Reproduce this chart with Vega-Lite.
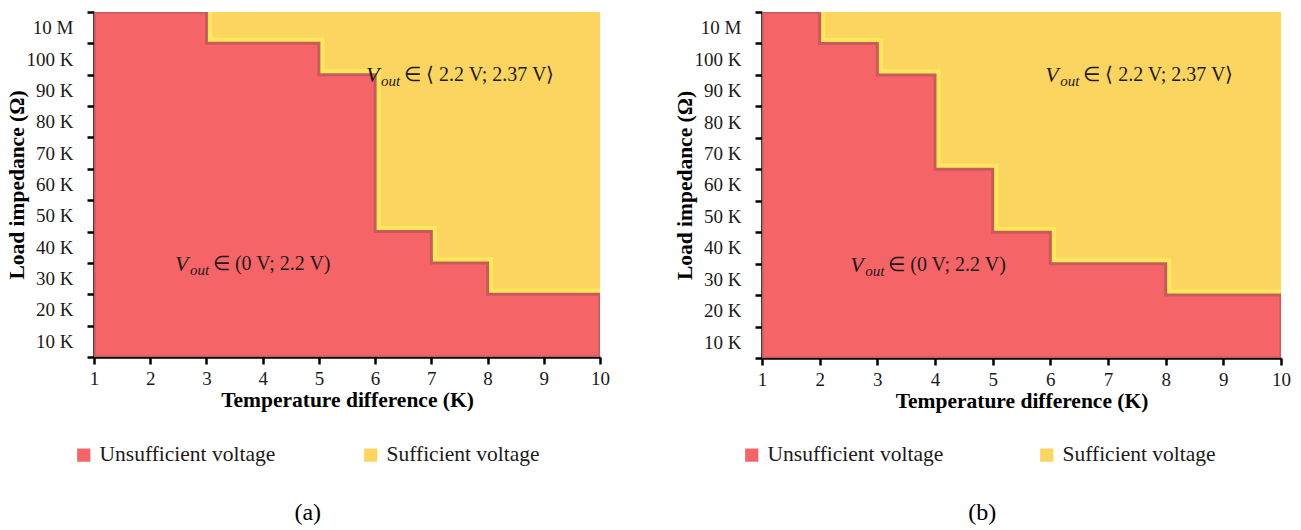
{
  "$schema": "https://vega.github.io/schema/vega-lite/v6.json",
  "background": "white",
  "padding": {"left": 6, "top": 10, "right": 10, "bottom": 5},
  "datasets": {
    "stepsA": [
      {"x": 1, "level": 11}, {"x": 3, "level": 10}, {"x": 5, "level": 9},
      {"x": 6, "level": 4}, {"x": 7, "level": 3}, {"x": 8, "level": 2}, {"x": 10, "level": 2}
    ],
    "stepsB": [
      {"x": 1, "level": 11}, {"x": 2, "level": 10}, {"x": 3, "level": 9},
      {"x": 4, "level": 6}, {"x": 5, "level": 4}, {"x": 6, "level": 3}, {"x": 8, "level": 2}, {"x": 10, "level": 2}
    ],
    "notesA": [
      {"x": 2.44, "level": 2.95, "rest": "∈ (0 V; 2.2 V)"},
      {"x": 5.84, "level": 9.0, "rest": "∈ ⟨ 2.2 V; 2.37 V⟩"}
    ],
    "notesB": [
      {"x": 2.53, "level": 2.96, "rest": "∈ (0 V; 2.2 V)"},
      {"x": 5.91, "level": 9.0, "rest": "∈ ⟨ 2.2 V; 2.37 V⟩"}
    ]
  },
  "config": {
    "font": "Liberation Serif",
    "view": {"stroke": null},
    "concat": {"spacing": 64},
    "axis": {
      "grid": false,
      "domainColor": "#000000",
      "domainWidth": 2.5,
      "tickColor": "#000000",
      "tickWidth": 2.5,
      "tickSize": 7,
      "labelFont": "Liberation Serif",
      "labelFontSize": 19,
      "labelColor": "#1a1a1a",
      "labelFlush": false,
      "labelOverlap": false,
      "titleFont": "Liberation Serif",
      "titleFontSize": 21.5,
      "titleFontWeight": "bold",
      "titleColor": "#000000"
    },
    "axisY": {"labelOverlap": false},
    "axisQuantitative": {"labelOverlap": false},
    "legend": {
      "orient": "none",
      "direction": "horizontal",
      "title": null,
      "padding": 0,
      "symbolType": "square",
      "symbolSize": 175,
      "symbolStrokeWidth": 0,
      "labelFont": "Liberation Serif",
      "labelFontSize": 21.5,
      "labelColor": "#1a1a1a",
      "labelOffset": 5,
      "labelLimit": 300
    },
    "title": {"font": "Liberation Serif", "fontSize": 24, "fontWeight": "normal", "color": "#000000", "orient": "bottom", "frame": "bounds", "anchor": "middle"}
  },
  "resolve": {"scale": {"color": "independent"}, "legend": {"color": "independent"}},
  "hconcat": [
    {
      "title": {"text": "(a)", "offset": 35},
      "width": 506,
      "height": 345,
      "encoding": {
        "x": {"field": "x", "type": "quantitative",
          "scale": {"domain": [1, 10], "nice": false, "zero": false},
          "axis": {"title": "Temperature difference (K)", "values": [1, 2, 3, 4, 5, 6, 7, 8, 9, 10], "format": "d", "labelPadding": 5, "titlePadding": 1}},
        "y": {"field": "level", "type": "quantitative",
          "scale": {"domain": [0, 11], "nice": false},
          "axis": {"title": "Load impedance (Ω)", "values": [0, 1, 2, 3, 4, 5, 6, 7, 8, 9, 10, 11],
            "labelExpr": "datum.value == 0 ? '' : (datum.value == 11 ? '10 M' : (datum.value * 10) + ' K')",
            "labelOverlap": false, "labelOffset": 15.7, "labelPadding": 14, "titlePadding": -2}}
      },
      "layer": [
        {
          "data": {"name": "stepsA"},
          "mark": {"type": "area", "interpolate": "step-after", "clip": true},
          "encoding": {
            "y2": {"datum": 11},
            "color": {"datum": "Sufficient voltage", "type": "nominal",
              "scale": {"domain": ["Unsufficient voltage", "Sufficient voltage"], "range": ["#f56567", "#fcd560"]},
              "legend": {"legendX": -21, "legendY": 432, "columnPadding": 84}}
          }
        },
        {
          "data": {"name": "stepsA"},
          "mark": {"type": "line", "interpolate": "step-after", "stroke": "#ffe95a", "strokeWidth": 11, "clip": true},
          "encoding": {}
        },
        {
          "data": {"name": "stepsA"},
          "mark": {"type": "area", "interpolate": "step-after", "stroke": "#c95a5c", "strokeWidth": 3, "clip": true},
          "encoding": {
            "y2": {"datum": 0},
            "color": {"datum": "Unsufficient voltage", "type": "nominal"}
          }
        },
        {
          "data": {"name": "notesA"},
          "mark": {"type": "text", "align": "left", "baseline": "middle", "fontStyle": "italic", "fontSize": 22, "color": "#1a1a1a"},
          "encoding": {"text": {"value": "V"}}
        },
        {
          "data": {"name": "notesA"},
          "mark": {"type": "text", "align": "left", "baseline": "middle", "fontStyle": "italic", "fontSize": 15, "dx": 15, "dy": 6, "color": "#1a1a1a"},
          "encoding": {"text": {"value": "out"}}
        },
        {
          "data": {"name": "notesA"},
          "mark": {"type": "text", "align": "left", "baseline": "middle", "fontSize": 20, "dx": 38, "color": "#1a1a1a"},
          "encoding": {"text": {"field": "rest"}}
        }
      ]
    },
    {
      "title": {"text": "(b)", "offset": 35},
      "width": 519,
      "height": 346,
      "encoding": {
        "x": {"field": "x", "type": "quantitative",
          "scale": {"domain": [1, 10], "nice": false, "zero": false},
          "axis": {"title": "Temperature difference (K)", "values": [1, 2, 3, 4, 5, 6, 7, 8, 9, 10], "format": "d", "labelPadding": 5, "titlePadding": 1}},
        "y": {"field": "level", "type": "quantitative",
          "scale": {"domain": [0, 11], "nice": false},
          "axis": {"title": "Load impedance (Ω)", "values": [0, 1, 2, 3, 4, 5, 6, 7, 8, 9, 10, 11],
            "labelExpr": "datum.value == 0 ? '' : (datum.value == 11 ? '10 M' : (datum.value * 10) + ' K')",
            "labelOverlap": false, "labelOffset": 15.7, "labelPadding": 14, "titlePadding": -2}}
      },
      "layer": [
        {
          "data": {"name": "stepsB"},
          "mark": {"type": "area", "interpolate": "step-after", "clip": true},
          "encoding": {
            "y2": {"datum": 11},
            "color": {"datum": "Sufficient voltage", "type": "nominal",
              "scale": {"domain": ["Unsufficient voltage", "Sufficient voltage"], "range": ["#f56567", "#fcd560"]},
              "legend": {"legendX": -21, "legendY": 432, "columnPadding": 92}}
          }
        },
        {
          "data": {"name": "stepsB"},
          "mark": {"type": "line", "interpolate": "step-after", "stroke": "#ffe95a", "strokeWidth": 11, "clip": true},
          "encoding": {}
        },
        {
          "data": {"name": "stepsB"},
          "mark": {"type": "area", "interpolate": "step-after", "stroke": "#c95a5c", "strokeWidth": 3, "clip": true},
          "encoding": {
            "y2": {"datum": 0},
            "color": {"datum": "Unsufficient voltage", "type": "nominal"}
          }
        },
        {
          "data": {"name": "notesB"},
          "mark": {"type": "text", "align": "left", "baseline": "middle", "fontStyle": "italic", "fontSize": 22, "color": "#1a1a1a"},
          "encoding": {"text": {"value": "V"}}
        },
        {
          "data": {"name": "notesB"},
          "mark": {"type": "text", "align": "left", "baseline": "middle", "fontStyle": "italic", "fontSize": 15, "dx": 15, "dy": 6, "color": "#1a1a1a"},
          "encoding": {"text": {"value": "out"}}
        },
        {
          "data": {"name": "notesB"},
          "mark": {"type": "text", "align": "left", "baseline": "middle", "fontSize": 20, "dx": 38, "color": "#1a1a1a"},
          "encoding": {"text": {"field": "rest"}}
        }
      ]
    }
  ]
}
